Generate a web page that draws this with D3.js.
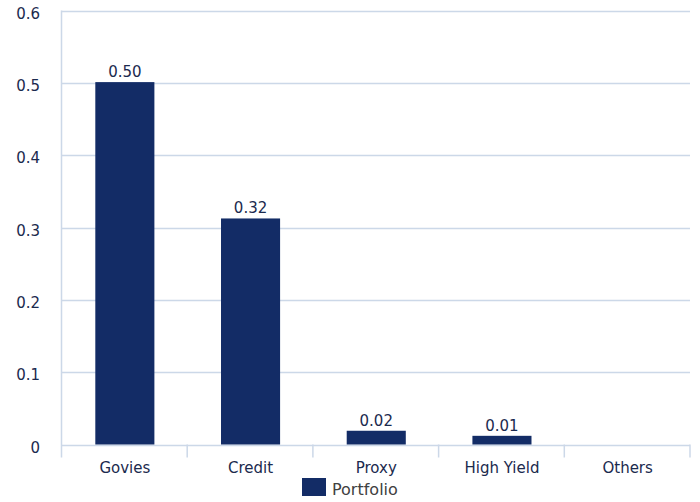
<!DOCTYPE html>
<html>
<head>
<meta charset="utf-8">
<script src="https://cdn.jsdelivr.net/npm/d3@7"></script>
<style>
  html, body { margin: 0; padding: 0; background: #ffffff; }
  svg { display: block; font-family: "DejaVu Sans", Verdana, sans-serif; }
</style>
</head>
<body>
<svg id="chart" width="700" height="502"></svg>
<script>
const categories = ["Govies", "Credit", "Proxy", "High Yield", "Others"];
const portfolioValues = [0.501, 0.3125, 0.019, 0.012, 0];
const valueLabels = ["0.50", "0.32", "0.02", "0.01", ""];
const yTicks = [0, 0.1, 0.2, 0.3, 0.4, 0.5, 0.6];
const yTickLabels = ["0", "0.1", "0.2", "0.3", "0.4", "0.5", "0.6"];
const seriesName = "Portfolio";

const svg = d3.select("#chart");
const plotLeft = 61.5, plotRight = 690, plotTop = 10.5, plotBottom = 444.5;
const barColor = "#132c66";
const gridColor = "#ccd8e8";
const textColor = "#1b2a4e";

const x = d3.scaleBand().domain(categories).range([plotLeft, plotRight]).paddingInner(0).paddingOuter(0);
const y = d3.scaleLinear().domain([0, 0.6]).range([plotBottom, plotTop]);

// gridlines
svg.append("g").selectAll("line").data(yTicks).join("line")
  .attr("x1", plotLeft).attr("x2", plotRight)
  .attr("y1", d => Math.round(y(d)) + 0.5).attr("y2", d => Math.round(y(d)) + 0.5)
  .attr("stroke", gridColor).attr("stroke-width", 1.5);

// y axis line
svg.append("line").attr("x1", plotLeft).attr("x2", plotLeft).attr("y1", plotTop).attr("y2", plotBottom + 13)
  .attr("stroke", gridColor).attr("stroke-width", 1.5);

// y tick labels
svg.append("g").selectAll("text").data(yTicks).join("text")
  .attr("x", 40).attr("y", d => y(d) + 3).attr("dy", "0.35em")
  .attr("text-anchor", "end").attr("font-size", 15).attr("fill", textColor)
  .text((d, i) => yTickLabels[i]);

// x category boundary ticks
const boundaries = categories.map(c => x(c)).concat([x(categories[categories.length - 1]) + x.bandwidth()]);
svg.append("g").selectAll("line").data(boundaries.slice(1)).join("line")
  .attr("x1", d => d).attr("x2", d => d).attr("y1", plotBottom).attr("y2", plotBottom + 13)
  .attr("stroke", gridColor).attr("stroke-width", 1.5);

// bars
const barW = x.bandwidth() * 0.47;
svg.append("g").selectAll("rect").data(portfolioValues).join("rect")
  .attr("x", (d, i) => x(categories[i]) + (x.bandwidth() - barW) / 2 + 0.5)
  .attr("y", d => y(d))
  .attr("width", barW)
  .attr("height", d => plotBottom - y(d))
  .attr("fill", barColor);

// value labels
svg.append("g").selectAll("text").data(portfolioValues).join("text")
  .attr("x", (d, i) => x(categories[i]) + x.bandwidth() / 2 + 0.5)
  .attr("y", d => y(d) - 5)
  .attr("text-anchor", "middle").attr("font-size", 15).attr("fill", textColor)
  .text((d, i) => valueLabels[i]);

// x labels
svg.append("g").selectAll("text").data(categories).join("text")
  .attr("x", d => x(d) + x.bandwidth() / 2 + 0.5)
  .attr("y", 472.5)
  .attr("text-anchor", "middle").attr("font-size", 15).attr("fill", textColor)
  .text(d => d);

// legend
const lg = svg.append("g");
lg.append("rect").attr("x", 302).attr("y", 478).attr("width", 24).attr("height", 18).attr("fill", barColor);
lg.append("text").attr("x", 332).attr("y", 495).attr("font-size", 16).attr("fill", "#404040").text(seriesName);
</script>
</body>
</html>
